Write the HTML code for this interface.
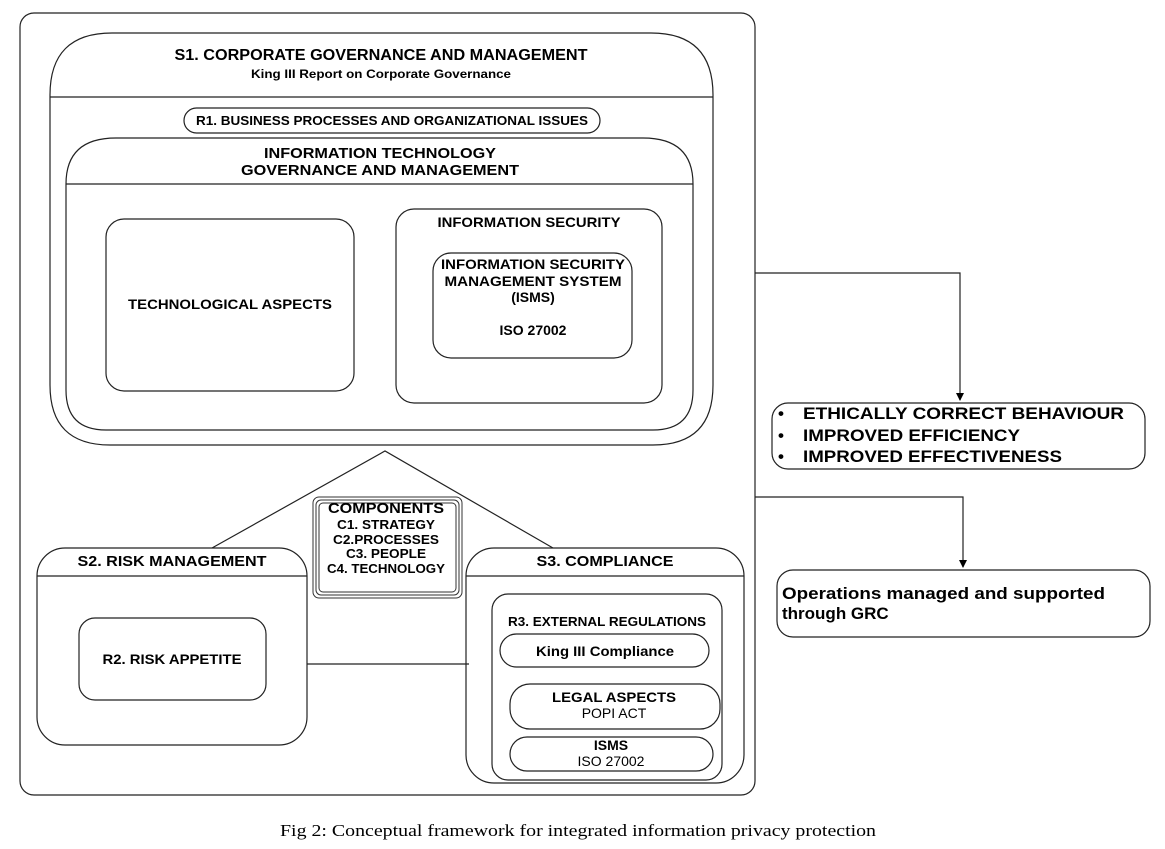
<!DOCTYPE html>
<html><head><meta charset="utf-8"><style>
html,body{margin:0;padding:0;background:#fff;width:1165px;height:849px;overflow:hidden}
svg{display:block}
text{font-family:"Liberation Sans",Arial,sans-serif;fill:#000}
.b{font-weight:bold}
</style></head><body>
<svg width="1165" height="849" viewBox="0 0 1165 849" xmlns="http://www.w3.org/2000/svg">
<defs><marker id="ah" markerWidth="8" markerHeight="8" refX="4" refY="7" orient="0" markerUnits="userSpaceOnUse"><path d="M0,0 L8,0 L4,8 z" fill="#000"/></marker></defs>
<g fill="none" stroke="#222" stroke-width="1.2">
<rect x="20" y="13" width="735" height="782" rx="14"/>
<path d="M50,97 V95 Q50,33 112,33 H651 Q713,33 713,95 V385 Q713,445 653,445 H110 Q50,445 50,385 Z"/>
<line x1="50" y1="97" x2="713" y2="97"/>
<rect x="184" y="108" width="416" height="25" rx="12.5"/>
<path d="M66,184 Q66,138 116,138 H643 Q693,138 693,184 V390 Q693,430 653,430 H106 Q66,430 66,390 Z"/>
<line x1="66" y1="184" x2="693" y2="184"/>
<rect x="106" y="219" width="248" height="172" rx="18"/>
<rect x="396" y="209" width="266" height="194" rx="18"/>
<rect x="433" y="253" width="199" height="105" rx="18"/>
<polyline points="212,548 385,451 553,548"/>
<rect x="37" y="548" width="270" height="197" rx="28"/>
<line x1="37" y1="576" x2="307" y2="576"/>
<rect x="79" y="618" width="187" height="82" rx="16"/>
<rect x="466" y="548" width="278" height="235" rx="28"/>
<line x1="466" y1="576" x2="744" y2="576"/>
<rect x="492" y="594" width="230" height="186" rx="16"/>
<rect x="500" y="634" width="209" height="33" rx="16.5"/>
<rect x="510" y="684" width="210" height="45" rx="20"/>
<rect x="510" y="737" width="203" height="34" rx="17"/>
<line x1="307" y1="664" x2="469" y2="664"/>
<rect x="772" y="403" width="373" height="66" rx="16"/>
<rect x="777" y="570" width="373" height="67" rx="16"/>
<polyline points="755,273 960,273 960,400" marker-end="url(#ah)"/>
<polyline points="755,497 963,497 963,567" marker-end="url(#ah)"/>
</g>
<g fill="#fff" stroke="#333" stroke-width="1">
<rect x="313" y="497" width="149" height="101" rx="6"/>
<rect x="316" y="500" width="143" height="95" rx="5"/>
<rect x="319" y="503" width="137" height="89" rx="4"/>
</g>
<text class="b" x="381" y="60" font-size="16" text-anchor="middle" textLength="413" lengthAdjust="spacingAndGlyphs">S1. CORPORATE GOVERNANCE AND MANAGEMENT</text>
<text class="b" x="381" y="78" font-size="12" text-anchor="middle" textLength="260" lengthAdjust="spacingAndGlyphs">King III Report on Corporate Governance</text>
<text class="b" x="392" y="125" font-size="13" text-anchor="middle" textLength="392" lengthAdjust="spacingAndGlyphs">R1. BUSINESS PROCESSES AND ORGANIZATIONAL ISSUES</text>
<text class="b" x="380" y="158" font-size="15" text-anchor="middle" textLength="232" lengthAdjust="spacingAndGlyphs">INFORMATION TECHNOLOGY</text>
<text class="b" x="380" y="175" font-size="15" text-anchor="middle" textLength="278" lengthAdjust="spacingAndGlyphs">GOVERNANCE AND MANAGEMENT</text>
<text class="b" x="230" y="309" font-size="14" text-anchor="middle" textLength="204" lengthAdjust="spacingAndGlyphs">TECHNOLOGICAL ASPECTS</text>
<text class="b" x="529" y="227" font-size="14" text-anchor="middle" textLength="183" lengthAdjust="spacingAndGlyphs">INFORMATION SECURITY</text>
<text class="b" x="533" y="269" font-size="14" text-anchor="middle" textLength="184" lengthAdjust="spacingAndGlyphs">INFORMATION SECURITY</text>
<text class="b" x="533" y="286" font-size="14" text-anchor="middle" textLength="177" lengthAdjust="spacingAndGlyphs">MANAGEMENT SYSTEM</text>
<text class="b" x="533" y="302" font-size="14" text-anchor="middle">(ISMS)</text>
<text class="b" x="533" y="335" font-size="14" text-anchor="middle">ISO 27002</text>
<text class="b" x="386" y="513" font-size="15" text-anchor="middle" textLength="116" lengthAdjust="spacingAndGlyphs">COMPONENTS</text>
<text class="b" x="386" y="529" font-size="13" text-anchor="middle" textLength="98" lengthAdjust="spacingAndGlyphs">C1. STRATEGY</text>
<text class="b" x="386" y="544" font-size="13" text-anchor="middle" textLength="106" lengthAdjust="spacingAndGlyphs">C2.PROCESSES</text>
<text class="b" x="386" y="558" font-size="13" text-anchor="middle" textLength="80" lengthAdjust="spacingAndGlyphs">C3. PEOPLE</text>
<text class="b" x="386" y="573" font-size="13" text-anchor="middle" textLength="118" lengthAdjust="spacingAndGlyphs">C4. TECHNOLOGY</text>
<text class="b" x="172" y="566" font-size="15" text-anchor="middle" textLength="189" lengthAdjust="spacingAndGlyphs">S2. RISK MANAGEMENT</text>
<text class="b" x="172" y="664" font-size="14" text-anchor="middle" textLength="139" lengthAdjust="spacingAndGlyphs">R2. RISK APPETITE</text>
<text class="b" x="605" y="566" font-size="15" text-anchor="middle" textLength="137" lengthAdjust="spacingAndGlyphs">S3. COMPLIANCE</text>
<text class="b" x="607" y="626" font-size="13" text-anchor="middle" textLength="198" lengthAdjust="spacingAndGlyphs">R3. EXTERNAL REGULATIONS</text>
<text class="b" x="605" y="656" font-size="14" text-anchor="middle" textLength="138" lengthAdjust="spacingAndGlyphs">King III Compliance</text>
<text class="b" x="614" y="702" font-size="14" text-anchor="middle" textLength="124" lengthAdjust="spacingAndGlyphs">LEGAL ASPECTS</text>
<text x="614" y="718" font-size="14" text-anchor="middle">POPI ACT</text>
<text class="b" x="611" y="750" font-size="14" text-anchor="middle">ISMS</text>
<text x="611" y="766" font-size="14" text-anchor="middle">ISO 27002</text>
<g class="b" font-size="17">
<text x="778" y="419">•</text><text x="803" y="419" class="b" font-size="17" textLength="321" lengthAdjust="spacingAndGlyphs">ETHICALLY CORRECT BEHAVIOUR</text>
<text x="778" y="441">•</text><text x="803" y="441" class="b" font-size="17" textLength="217" lengthAdjust="spacingAndGlyphs">IMPROVED EFFICIENCY</text>
<text x="778" y="462">•</text><text x="803" y="462" class="b" font-size="17" textLength="259" lengthAdjust="spacingAndGlyphs">IMPROVED EFFECTIVENESS</text>
</g>
<text class="b" x="782" y="599" font-size="17" textLength="323" lengthAdjust="spacingAndGlyphs">Operations managed and supported</text>
<text class="b" x="782" y="619" font-size="17">through GRC</text>
<text x="578" y="836" font-size="17" text-anchor="middle" style="font-family:'Liberation Serif',serif" textLength="596" lengthAdjust="spacingAndGlyphs">Fig 2: Conceptual framework for integrated information privacy protection</text>
</svg>
</body></html>
